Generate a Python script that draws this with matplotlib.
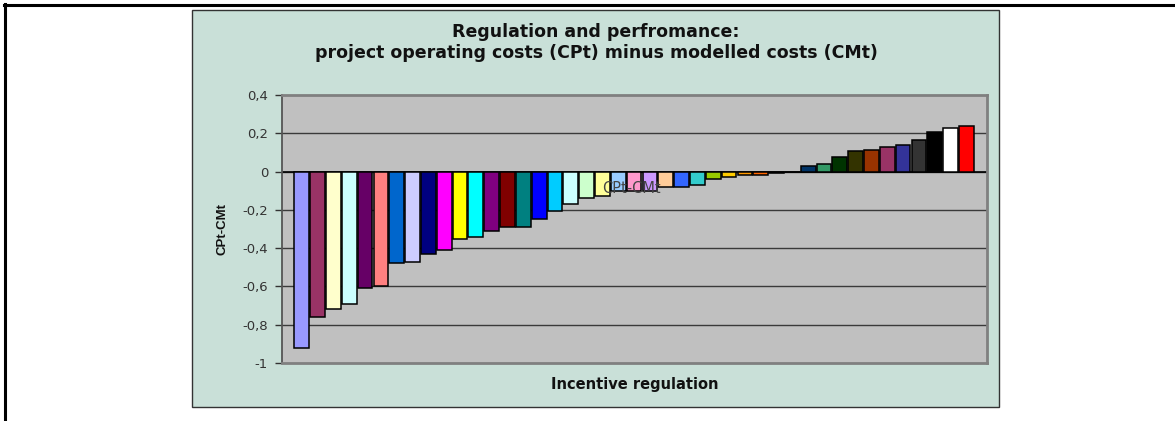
import matplotlib.pyplot as plt
from matplotlib.patches import Rectangle
from matplotlib.lines import Line2D
from matplotlib.ticker import FuncFormatter

plt.rcParams['font.family'] = ['DejaVu Sans']

# CPt - CMt per project, sorted from lowest to highest
values = [-0.92, -0.76, -0.72, -0.69, -0.61, -0.60, -0.48, -0.47, -0.43, -0.41,
          -0.35, -0.34, -0.31, -0.29, -0.29, -0.25, -0.205, -0.17, -0.14, -0.13,
          -0.10, -0.10, -0.10, -0.08, -0.08, -0.07, -0.04, -0.03, -0.02, -0.02,
          -0.01, 0.0, 0.03, 0.04, 0.075, 0.105, 0.115, 0.13, 0.14, 0.165,
          0.205, 0.23, 0.24]

# default spreadsheet series palette, one colour per bar
colors = ['#9999ff', '#993366', '#ffffcc', '#ccffff', '#660066', '#ff8080',
          '#0066cc', '#ccccff', '#000080', '#ff00ff', '#ffff00', '#00ffff',
          '#800080', '#800000', '#008080', '#0000ff', '#00ccff', '#ccffff',
          '#ccffcc', '#ffff99', '#99ccff', '#ff99cc', '#cc99ff', '#ffcc99',
          '#3366ff', '#33cccc', '#99cc00', '#ffcc00', '#ff9900', '#ff6600',
          '#666699', '#969696', '#003366', '#339966', '#003300', '#333300',
          '#993300', '#993366', '#333399', '#333333', '#000000', '#ffffff',
          '#ff0000']

yticks = [0.4, 0.2, 0, -0.2, -0.4, -0.6, -0.8, -1]

W, H = 1175, 421
fig = plt.figure(figsize=(W / 100, H / 100), dpi=100)
fig.patch.set_facecolor('white')

# page border (top and left only)
fig.add_artist(Line2D([4 / W, 1], [1 - 5 / H, 1 - 5 / H], color='black', lw=2.2))
fig.add_artist(Line2D([5 / W, 5 / W], [0, 1 - 4 / H], color='black', lw=2.2))

# chart area, kept behind the axes
fig.add_artist(Rectangle((192 / W, 1 - 407 / H), (999 - 192) / W, 397 / H,
                         facecolor='#c9e0d8', edgecolor='#333333', lw=1.0, zorder=-5))

ax = fig.add_axes([282 / W, 1 - 363 / H, (987 - 282) / W, (363 - 95) / H])
ax.set_facecolor('#c0c0c0')

x = list(range(len(values)))
ax.bar(x, values, width=0.93, color=colors, edgecolor='black', linewidth=1.1, zorder=3)

ax.set_xlim(-1.25, len(values) - 1 + 1.3)
ax.set_ylim(-1, 0.4)
ax.set_yticks(yticks)
ax.yaxis.set_major_formatter(FuncFormatter(lambda v, p: ('%g' % round(v, 2)).replace('.', ',')))
ax.tick_params(axis='y', direction='out', length=5, width=1, color='#333333',
               labelsize=9.5, labelcolor='#333333', pad=5)
ax.set_xticks([])

for v in yticks[1:-1]:
    ax.axhline(v, color='#3a3a3a', lw=1, zorder=1)
ax.axhline(0, color='black', lw=1.2, zorder=2)

for s in ax.spines.values():
    s.set_color('#808080')
    s.set_linewidth(2)
ax.spines['left'].set_color('#555555')
ax.spines['left'].set_linewidth(1.3)

fig.text(596 / W, 1 - 32 / H, 'Regulation and perfromance:', ha='center', va='center',
         fontsize=12.5, fontweight='bold', color='#111111')
fig.text(596 / W, 1 - 53 / H, 'project operating costs (CPt) minus modelled costs (CMt)',
         ha='center', va='center', fontsize=12.5, fontweight='bold', color='#111111')

fig.text(222 / W, 1 - 229 / H, 'CPt-CMt', rotation=90, ha='center', va='center',
         fontsize=9.5, fontweight='bold', color='#111111', family='Liberation Sans')
fig.text(635 / W, 1 - 385 / H, 'Incentive regulation', ha='center', va='center',
         fontsize=10.5, fontweight='bold', color='#111111')

# stray series label sitting over the bars
fig.text(602 / W, 1 - 189 / H, 'CPt-CMt', ha='left', va='center',
         fontsize=10.5, color='#444444')

fig.savefig('out.png', dpi=100)
